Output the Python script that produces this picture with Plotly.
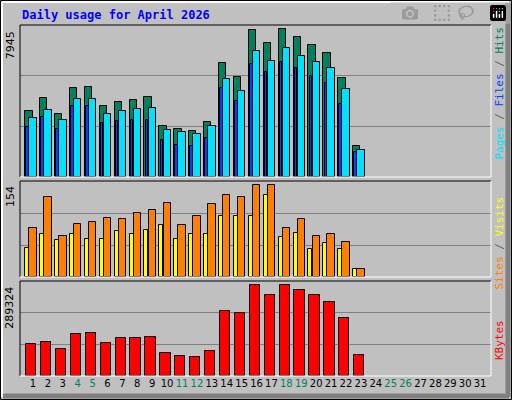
import plotly.graph_objects as go

days = list(range(1, 32))
data_days = list(range(1, 24))
hits = [3577, 4224, 3415, 4764, 4818, 3793, 4009, 4117, 4279, 2768, 2607, 2499, 2984,
        6112, 5357, 7892, 7191, 7945, 7514, 7083, 6651, 5303, 1690]
files = [3200, 3631, 3092, 4170, 4170, 3415, 3577, 3685, 3739, 2552, 2445, 2337, 2768,
         5249, 4602, 6759, 6220, 6921, 6489, 6166, 5842, 4710, 1474]
pages = [2714, 3253, 2606, 3793, 3846, 2929, 3037, 3091, 3091, 2013, 1743, 1689, 2121,
         4763, 4115, 6056, 5625, 6164, 5840, 5409, 5032, 3953, 1366]
sites = [81, 134, 69, 89, 92, 99, 97, 107, 111, 124, 86, 101, 121, 136, 134, 154, 154,
         82, 97, 69, 72, 59, 14]
visits = [49, 72, 61, 71, 64, 64, 76, 71, 79, 86, 64, 72, 71, 102, 101, 101, 137, 66,
          74, 46, 57, 46, 14]
kbytes = [102432, 108768, 86592, 134112, 137280, 105600, 121440, 121440, 124608, 73920,
          64416, 61248, 80256, 206976, 200640, 289324, 257664, 289324, 273504, 257664,
          235488, 184800, 67584]
weekends = [4, 5, 11, 12, 18, 19, 25, 26]

W, H, L, R, T, B = 512, 400, 20, 21, 25, 24
PW, PH = W - L - R, H - T - B


def px(x):
    return (x - L) / PW


def py(y):
    return (H - B - y) / PH


fig = go.Figure()
line = dict(color="black", width=1)


def bar(y, color, off, width, ax):
    fig.add_trace(go.Bar(x=data_days, y=y, marker=dict(color=color, line=line),
                         offset=off, width=width, xaxis="x", yaxis=ax))


bar(hits, "#00805c", -0.52, 0.49, "y")
bar(files, "#00e0ff", -0.24, 0.49, "y")
bar(pages, "#0040ff", -0.44, 0.17, "y")
bar(visits, "#ffff00", -0.52, 0.27, "y2")
bar(sites, "#ff8000", -0.24, 0.49, "y2")
bar(kbytes, "#ff0000", -0.46, 0.69, "y3")

tick_text = [f"<span style='color:#00805c'>{d}</span>" if d in weekends else str(d) for d in days]

maxes = [(7945, 8177), (154, 160), (289324, 301000)]
domains = [[py(177), 1], [py(277), py(181)], [0, py(281)]]
for i, ((m, top), dom) in enumerate(zip(maxes, domains)):
    name = "yaxis" if i == 0 else f"yaxis{i + 1}"
    fig.layout[name] = dict(domain=dom, range=[0, top], tickvals=[top / 3, 2 * top / 3],
                            showticklabels=False, ticks="", gridcolor="#808080",
                            gridwidth=1, zeroline=False, fixedrange=True, anchor="x")
    fig.add_annotation(x=px(10), y=dom[0] + (dom[1] - dom[0]) * m / top, xref="paper",
                       yref="paper", text=str(m), textangle=-90, showarrow=False,
                       xanchor="center", yanchor="top",
                       font=dict(family="DejaVu Sans", size=11, color="black"))

fig.update_layout(
    width=W, height=H, margin=dict(l=L, r=R, t=T, b=B),
    paper_bgcolor="#c0c0c0", plot_bgcolor="#c0c0c0", showlegend=False,
    barmode="overlay", bargap=0,
    xaxis=dict(range=[0.13, 31.73], tickvals=days, ticktext=tick_text, ticks="",
               showgrid=False, zeroline=False, fixedrange=True, anchor="y3",
               tickfont=dict(family="DejaVu Sans", size=10, color="black")),
    font=dict(family="DejaVu Sans Mono"),
)

fig.add_annotation(x=px(20), y=py(15), xref="paper", yref="paper", xanchor="left",
                   yanchor="middle", showarrow=False,
                   text="<b>Daily usage for April 2026</b>",
                   font=dict(family="DejaVu Sans Mono", size=12, color="#0000ff"))

sep = "<span style='color:#606060'> / </span>"
side = [
    ("<span style='color:#00e0ff'>Pages</span>" + sep + "<span style='color:#0040ff'>Files</span>"
     + sep + "<span style='color:#00805c'>Hits</span>", 25),
    ("<span style='color:#ff8000'>Sites</span>" + sep + "<span style='color:#ffff00'>Visits</span>", 195),
    ("<span style='color:#ff0000'>KBytes</span>", 318),
]
for txt, top in side:
    fig.add_annotation(x=px(499), y=py(top), xref="paper", yref="paper", text=txt,
                       textangle=-90, showarrow=False, xanchor="center", yanchor="top",
                       font=dict(family="DejaVu Sans Mono", size=11))

shapes = []


def seg(x0, y0, x1, y1, color, w=1):
    shapes.append(dict(type="line", xref="paper", yref="paper", x0=px(x0), y0=py(y0),
                       x1=px(x1), y1=py(y1), line=dict(color=color, width=w)))


# outer bevel
seg(0.5, 0.5, 511.5, 0.5, "black")
seg(0.5, 0.5, 0.5, 399.5, "black")
seg(511.5, 0.5, 511.5, 399.5, "black")
seg(0.5, 399.5, 511.5, 399.5, "black")
seg(2, 2, 509, 2, "white", 2)
seg(2, 2, 2, 397, "white", 2)
seg(508, 3, 508, 397, "#808080", 5)
seg(3, 396, 509, 396, "#808080", 5)
# panel frames
for top, bot in [(25, 177), (181, 277), (281, 376)]:
    seg(20, top, 491, top, "black")
    seg(20, top, 20, bot, "black")
    seg(491, top, 491, bot, "white")
    seg(20, bot, 491, bot, "white")
fig.update_layout(shapes=shapes)

fig.write_html("out.html", post_script="document.body.style.margin='0';")
